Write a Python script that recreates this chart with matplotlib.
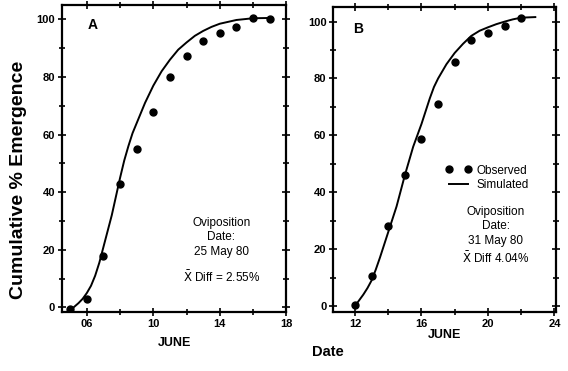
import matplotlib.pyplot as plt
from matplotlib.ticker import MultipleLocator

plt.rcParams['font.family'] = ['Liberation Sans', 'DejaVu Sans']

# A: oviposition 25 May 80
obs_a_day = [5, 6, 7, 8, 9, 10, 11, 12, 13, 14, 15, 16, 17]
obs_a_pct = [-0.5, 3, 18, 43, 55, 68, 80, 87.4, 92.6, 95.4, 97.5, 100.4, 100.3]
sim_a_day = [5.2, 5.5, 5.75, 6, 6.25, 6.5, 6.75, 7, 7.25, 7.5, 7.75, 8, 8.25, 8.5,
             8.75, 9, 9.5, 10, 10.5, 11, 11.5, 12, 12.5, 13, 13.5, 14, 15, 16, 17]
sim_a_pct = [0, 1.5, 3, 5, 7.5, 11, 15.5, 21, 26.5, 32, 38.5, 45, 51, 56,
             60.5, 64, 71, 77, 82, 86, 89.5, 92, 94.3, 96, 97.4, 98.5, 99.8, 100.4, 100.5]

# B: oviposition 31 May 80
obs_b_day = [12, 13, 14, 15, 16, 17, 18, 19, 20, 21, 22]
obs_b_pct = [0.3, 10.5, 28.1, 46, 58.6, 71, 85.7, 93.6, 95.9, 98.5, 101.2]
sim_b_day = [12, 12.25, 12.5, 12.75, 13, 13.25, 13.5, 13.75, 14, 14.25, 14.5, 14.75,
             15, 15.25, 15.5, 15.75, 16, 16.25, 16.5, 16.75, 17, 17.5, 18, 18.5,
             19, 19.5, 20, 20.5, 21, 21.5, 22, 22.85]
sim_b_pct = [0, 2, 4, 6.3, 9, 12.8, 17, 21.5, 26, 30.5, 35, 40.5, 46, 51, 56, 60, 64,
             68.5, 73, 77, 80, 85, 89, 92.2, 95, 96.8, 98, 99.1, 100, 100.8, 101.4, 101.6]

fig = plt.figure(figsize=(5.68, 3.71), dpi=100)
ax_a = fig.add_axes([0.109, 0.159, 0.395, 0.8275])
ax_b = fig.add_axes([0.587, 0.160, 0.392, 0.820])


def style(ax, xlim, ylim, xticks):
    ax.set_xlim(*xlim)
    ax.set_ylim(*ylim)
    ax.set_xticks(xticks)
    ax.xaxis.set_minor_locator(MultipleLocator(2))
    ax.yaxis.set_major_locator(MultipleLocator(20))
    ax.yaxis.set_minor_locator(MultipleLocator(10))
    ax.tick_params(which='both', direction='inout', top=True, right=True,
                   width=1.2, labelsize=8, pad=2)
    ax.tick_params(which='major', length=6)
    ax.tick_params(which='minor', length=4)
    for lab in ax.get_xticklabels() + ax.get_yticklabels():
        lab.set_fontweight('bold')
    for sp in ax.spines.values():
        sp.set_linewidth(1.6)


ax_a.plot(sim_a_day, sim_a_pct, color='black', lw=1.4)
ax_a.plot(obs_a_day, obs_a_pct, 'o', color='black', ms=5)
style(ax_a, (4.5, 18), (-1.6, 105), [6, 10, 14, 18])
ax_a.set_xticklabels(['06', '10', '14', '18'])
ax_a.text(0.135, 0.935, 'A', transform=ax_a.transAxes, fontsize=10, fontweight='bold',
          ha='center', va='center')
ax_a.text(0.71, 0.243, 'Oviposition\nDate:\n25 May 80', transform=ax_a.transAxes,
          fontsize=8.5, ha='center', va='center', linespacing=1.25)
ax_a.text(0.71, 0.113, r'$\bar{\mathrm{X}}$ Diff = 2.55%', transform=ax_a.transAxes,
          fontsize=8.5, ha='center', va='center')
ax_a.set_xlabel('JUNE', fontsize=9, fontweight='bold', labelpad=6)

ax_b.plot(sim_b_day, sim_b_pct, color='black', lw=1.4, label='Simulated')
ax_b.plot(obs_b_day, obs_b_pct, 'o', color='black', ms=5, label='Observed')
style(ax_b, (10.7, 24.1), (-2, 105), [12, 16, 20, 24])
ax_b.text(0.11, 0.93, 'B', transform=ax_b.transAxes, fontsize=10, fontweight='bold',
          ha='center', va='center')
ax_b.text(0.73, 0.28, 'Oviposition\nDate:\n31 May 80', transform=ax_b.transAxes,
          fontsize=8.5, ha='center', va='center', linespacing=1.25)
ax_b.text(0.73, 0.175, r'$\bar{\mathrm{X}}$ Diff 4.04%', transform=ax_b.transAxes,
          fontsize=8.5, ha='center', va='center')
h, l = ax_b.get_legend_handles_labels()
ax_b.legend(h[::-1], l[::-1], numpoints=2, frameon=False, fontsize=8.5,
            loc='center', bbox_to_anchor=(0.69, 0.44), handlelength=2.2,
            handletextpad=0.4, labelspacing=0.2, borderpad=0)
ax_b.set_xlabel('JUNE', fontsize=9, fontweight='bold', labelpad=0)

fig.text(0.033, 0.515, 'Cumulative % Emergence', rotation=90, fontsize=14,
         fontweight='bold', ha='center', va='center')
fig.text(0.578, 0.05, 'Date', fontsize=10.5, fontweight='bold', ha='center', va='center')

fig.savefig('out.png', dpi=100)
